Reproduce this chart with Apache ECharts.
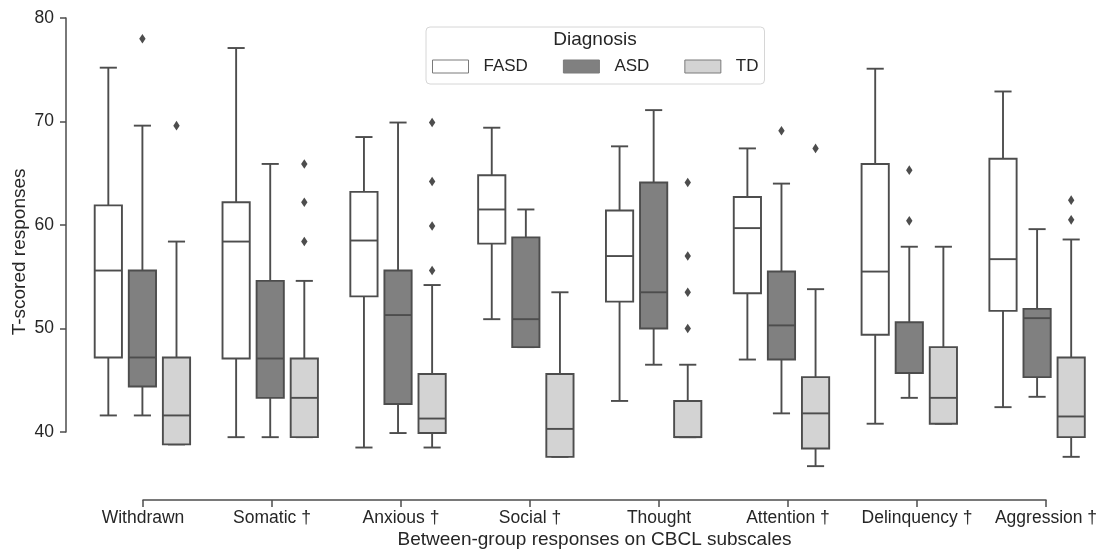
<!DOCTYPE html>
<html>
<head>
<meta charset="utf-8">
<style>
  html, body { margin: 0; padding: 0; background: #fff; }
  #chart { width: 1101px; height: 551px; }
</style>
<script src="https://cdn.jsdelivr.net/npm/echarts@6/dist/echarts.min.js"></script>
</head>
<body>
<div id="chart"></div>
<script>
const categories = ['Withdrawn', 'Somatic †', 'Anxious †', 'Social †', 'Thought', 'Attention †', 'Delinquency †', 'Aggression †']
const hues = ['FASD', 'ASD', 'TD']

// [min, Q1, median, Q3, max] per subscale
const fasdBoxes = [
  [41.6, 47.2, 55.6, 61.9, 75.2],
  [39.5, 47.1, 58.4, 62.2, 77.1],
  [38.5, 53.1, 58.5, 63.2, 68.5],
  [50.9, 58.2, 61.5, 64.8, 69.4],
  [43.0, 52.6, 57.0, 61.4, 67.6],
  [47.0, 53.4, 59.7, 62.7, 67.4],
  [40.8, 49.4, 55.5, 65.9, 75.1],
  [42.4, 51.7, 56.7, 66.4, 72.9]
]
const asdBoxes = [
  [41.6, 44.4, 47.2, 55.6, 69.6],
  [39.5, 43.3, 47.1, 54.6, 65.9],
  [39.9, 42.7, 51.3, 55.6, 69.9],
  [48.2, 48.2, 50.9, 58.8, 61.5],
  [46.5, 50.0, 53.5, 64.1, 71.1],
  [41.8, 47.0, 50.3, 55.5, 64.0],
  [43.3, 45.7, 45.7, 50.6, 57.9],
  [43.4, 45.3, 51.0, 51.9, 59.6]
]
const tdBoxes = [
  [38.8, 38.8, 41.6, 47.2, 58.4],
  [39.5, 39.5, 43.3, 47.1, 54.6],
  [38.5, 39.9, 41.3, 45.6, 54.2],
  [37.6, 37.6, 40.3, 45.6, 53.5],
  [39.5, 39.5, 39.5, 43.0, 46.5],
  [36.7, 38.4, 41.8, 45.3, 53.8],
  [40.8, 40.8, 43.3, 48.2, 57.9],
  [37.6, 39.5, 41.5, 47.2, 58.6]
]

// [subscale index, value]
const fasdOutliers = []
const asdOutliers = [[0, 78.0], [5, 69.1], [6, 65.3], [6, 60.4]]
const tdOutliers = [
  [0, 69.6], [1, 65.9], [1, 62.2], [1, 58.4],
  [2, 69.9], [2, 64.2], [2, 59.9], [2, 55.6],
  [4, 64.1], [4, 57.0], [4, 53.5], [4, 50.0],
  [5, 67.4], [7, 62.4], [7, 60.5]
]

const yTicks = [40, 50, 60, 70, 80]

const FONT = 'Liberation Sans, Arial, sans-serif'
const TEXT = '#262626'
const LINE = '#4d4d4d'
const fills = ['#ffffff', '#808080', '#d3d3d3']
const hueShift = [-0.2667, 0, 0.2667] // fraction of category band
const BOX_FRAC = 0.213
const CAP_FRAC = 0.134

const boxData = [fasdBoxes, asdBoxes, tdBoxes]
const outlierData = [fasdOutliers, asdOutliers, tdOutliers]

function boxRenderer(h) {
  return function (params, api) {
    const band = api.size([1, 0])[0]
    const idx = api.value(0)
    const cx = api.coord([idx, 0])[0] + hueShift[h] * band
    const bw = BOX_FRAC * band
    const cw = CAP_FRAC * band
    const y = k => api.coord([idx, api.value(k)])[1]
    const yMin = y(1), yQ1 = y(2), yMed = y(3), yQ3 = y(4), yMax = y(5)
    const ls = { stroke: LINE, lineWidth: 1.9 }
    return {
      type: 'group',
      children: [
        { type: 'line', shape: { x1: cx, y1: yQ3, x2: cx, y2: yMax }, style: ls },
        { type: 'line', shape: { x1: cx, y1: yQ1, x2: cx, y2: yMin }, style: ls },
        { type: 'line', shape: { x1: cx - cw / 2, y1: yMax, x2: cx + cw / 2, y2: yMax }, style: ls },
        { type: 'line', shape: { x1: cx - cw / 2, y1: yMin, x2: cx + cw / 2, y2: yMin }, style: ls },
        { type: 'rect', shape: { x: cx - bw / 2, y: yQ3, width: bw, height: yQ1 - yQ3 },
          style: { fill: fills[h], stroke: LINE, lineWidth: 1.9 } },
        { type: 'line', shape: { x1: cx - bw / 2, y1: yMed, x2: cx + bw / 2, y2: yMed }, style: ls }
      ]
    }
  }
}

function outlierRenderer(h) {
  return function (params, api) {
    const band = api.size([1, 0])[0]
    const p = api.coord([api.value(0), api.value(1)])
    const cx = p[0] + hueShift[h] * band
    const cy = p[1]
    return {
      type: 'polygon',
      shape: { points: [[cx, cy - 4.8], [cx + 3.2, cy], [cx, cy + 4.8], [cx - 3.2, cy]] },
      style: { fill: LINE }
    }
  }
}

const series = []
hues.forEach((name, h) => {
  series.push({
    name,
    type: 'custom',
    xAxisIndex: 2,
    yAxisIndex: 2,
    itemStyle: { color: fills[h] },
    renderItem: boxRenderer(h),
    encode: { x: 0, y: [1, 2, 3, 4, 5] },
    data: boxData[h].map((b, i) => [i].concat(b))
  })
  series.push({
    name: name + ' outliers',
    type: 'custom',
    xAxisIndex: 2,
    yAxisIndex: 2,
    renderItem: outlierRenderer(h),
    encode: { x: 0, y: 1 },
    data: outlierData[h]
  })
})

const chart = echarts.init(document.getElementById('chart'))
chart.setOption({
  animation: false,
  backgroundColor: '#fff',
  textStyle: { fontFamily: FONT, color: TEXT },
  title: {
    text: 'Diagnosis',
    left: 595,
    top: 30,
    textAlign: 'center',
    padding: 0,
    textStyle: { fontFamily: FONT, fontSize: 19, fontWeight: 'normal', color: TEXT }
  },
  legend: {
    left: 426,
    top: 27,
    orient: 'horizontal',
    data: hues.map((name, h) => ({
      name,
      icon: 'rect',
      itemStyle: { color: fills[h], borderColor: '#7a7a7a', borderWidth: 1 }
    })),
    itemWidth: 36,
    itemHeight: 13,
    itemGap: 35,
    padding: [31, 6, 9, 6],
    borderColor: '#d6d6d6',
    borderWidth: 1,
    borderRadius: 4,
    backgroundColor: '#fff',
    selectedMode: false,
    textStyle: { fontFamily: FONT, fontSize: 17, color: TEXT, padding: [0, 0, 0, 10] }
  },
  grid: [
    // y axis display (trimmed to 40..80)
    { left: 66, top: 18, width: 1, height: 414 },
    // x axis display (trimmed between first and last category)
    { left: 143, top: 499, width: 903, height: 1 },
    // data area
    { left: 78.5, top: 17.38, width: 1032, height: 469.06 }
  ],
  xAxis: [
    { gridIndex: 0, type: 'value', show: false },
    {
      gridIndex: 1,
      type: 'category',
      data: categories,
      boundaryGap: false,
      position: 'bottom',
      axisLine: { onZero: false, lineStyle: { color: LINE, width: 1.5 } },
      axisTick: { length: 7, lineStyle: { color: LINE, width: 1.5 } },
      axisLabel: { fontFamily: FONT, fontSize: 17.5, color: TEXT, margin: 9, interval: 0 },
      name: 'Between-group responses on CBCL subscales',
      nameLocation: 'middle',
      nameGap: 30,
      nameTextStyle: { fontFamily: FONT, fontSize: 19, color: TEXT }
    },
    { gridIndex: 2, type: 'category', data: categories, show: false }
  ],
  yAxis: [
    {
      gridIndex: 0,
      type: 'value',
      min: 40,
      max: 80,
      interval: 10,
      axisLine: { show: true, onZero: false, lineStyle: { color: LINE, width: 1.5 } },
      axisTick: { show: true, length: 6, lineStyle: { color: LINE, width: 1.5 } },
      axisLabel: {
        fontFamily: FONT, fontSize: 17.5, color: TEXT, margin: 12,
        formatter: v => (yTicks.includes(v) ? String(v) : '')
      },
      splitLine: { show: false }
    },
    { gridIndex: 1, type: 'value', show: false },
    {
      gridIndex: 2,
      type: 'value',
      min: 34.74,
      max: 80.06,
      axisLine: { show: false },
      axisTick: { show: false },
      axisLabel: { show: false },
      splitLine: { show: false },
      name: 'T-scored responses',
      nameLocation: 'middle',
      nameGap: 49,
      nameTextStyle: { fontFamily: FONT, fontSize: 19, color: TEXT }
    }
  ],
  series
})
</script>
</body>
</html>
